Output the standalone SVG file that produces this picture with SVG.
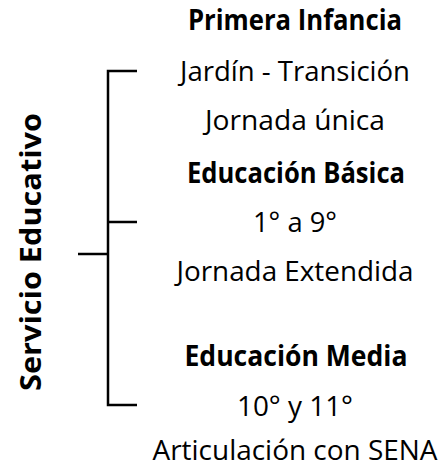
<svg xmlns="http://www.w3.org/2000/svg" width="440" height="467" viewBox="0 0 440 467">
<style>
.t{font-family:"Open Sans","Noto Sans",sans-serif;font-size:28px;fill:#000;text-anchor:middle}
.b{font-weight:bold}
.ln{stroke:#000;stroke-width:2.5;fill:none}
</style>
<rect width="440" height="467" fill="#fff"/>
<g id="root">
<text class="t b" x="0" y="0" font-size="36" transform="translate(41,252) rotate(-90)" textLength="278" lengthAdjust="spacingAndGlyphs">Servicio Educativo</text>
</g>
<g id="connectors">
<path class="ln" d="M137,71 H108 V405 H137 M108,222 H137"/>
<path class="ln" stroke-width="3.2" d="M78,254 H108"/>
</g>
<g id="primera-infancia">
<text class="t b" x="295" y="30" textLength="214" lengthAdjust="spacingAndGlyphs">Primera Infancia</text>
<text class="t" x="295" y="81" textLength="230" lengthAdjust="spacingAndGlyphs">Jardín - Transición</text>
<text class="t" x="295" y="130" textLength="180" lengthAdjust="spacingAndGlyphs">Jornada única</text>
</g>
<g id="educacion-basica">
<text class="t b" x="296" y="183" textLength="218" lengthAdjust="spacingAndGlyphs">Educación Básica</text>
<text class="t" x="295" y="232" textLength="84" lengthAdjust="spacingAndGlyphs">1° a 9°</text>
<text class="t" x="295" y="281" textLength="237" lengthAdjust="spacingAndGlyphs">Jornada Extendida</text>
</g>
<g id="educacion-media">
<text class="t b" x="296" y="366" textLength="223" lengthAdjust="spacingAndGlyphs">Educación Media</text>
<text class="t" x="295" y="416" textLength="116" lengthAdjust="spacingAndGlyphs">10° y 11°</text>
<text class="t" x="295" y="460" textLength="285" lengthAdjust="spacingAndGlyphs">Articulación con SENA</text>
</g>
</svg>
